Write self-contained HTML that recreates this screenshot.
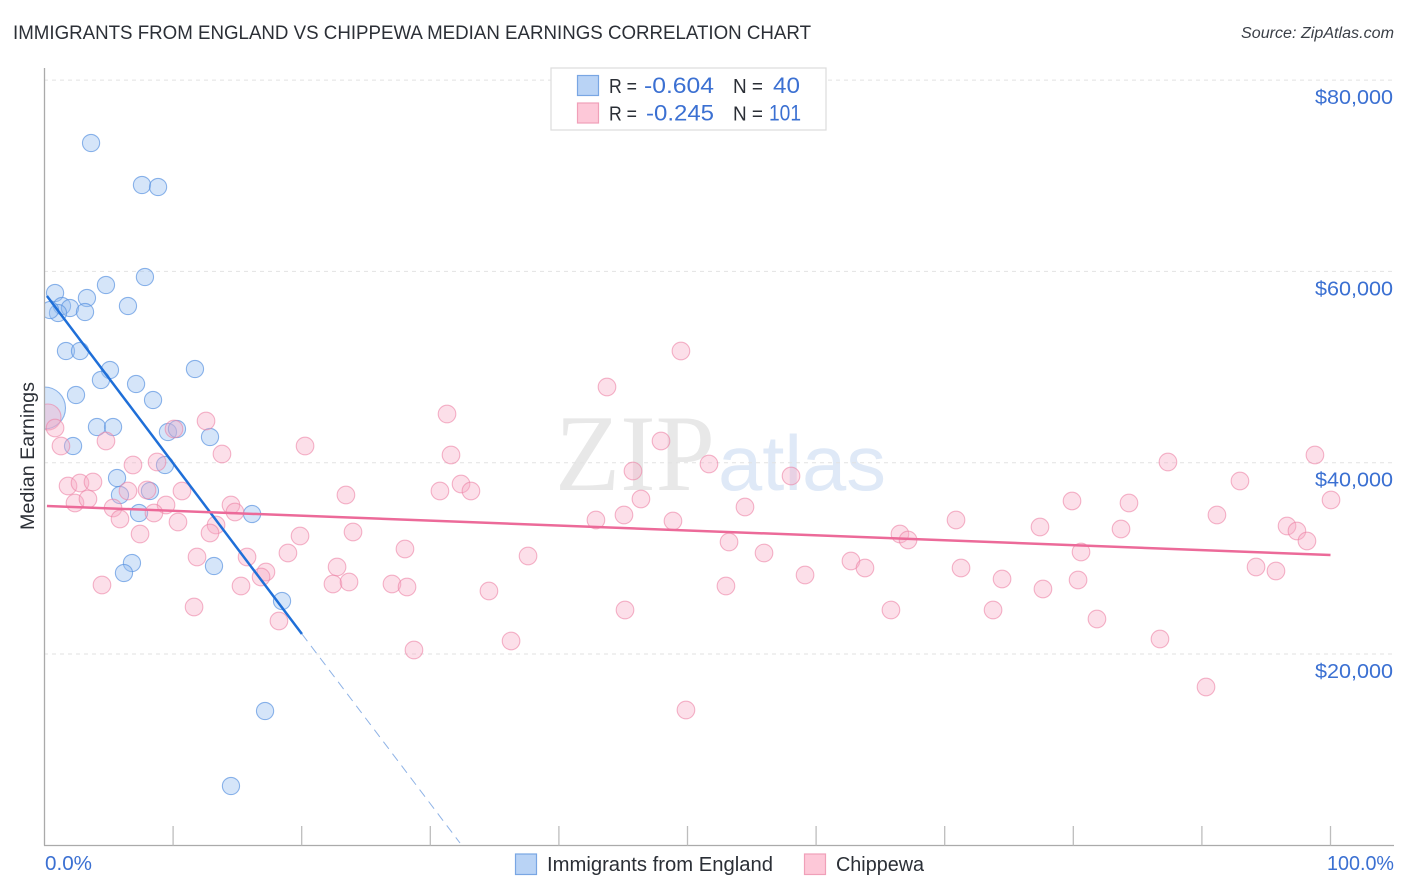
<!DOCTYPE html>
<html lang="en">
<head>
<meta charset="utf-8">
<title>Immigrants from England vs Chippewa Median Earnings Correlation Chart</title>
<style>
html,body{margin:0;padding:0;background:#fff;width:1406px;height:892px;overflow:hidden}
svg{display:block;font-family:"Liberation Sans",sans-serif}
</style>
</head>
<body>
<svg id="chart" xmlns="http://www.w3.org/2000/svg" width="1406" height="892" viewBox="0 0 1406 892">
  <defs><clipPath id="plot-clip"><rect x="44" y="60" width="1350" height="785"/></clipPath></defs>
  <rect x="0" y="0" width="1406" height="892" fill="#fff"/>
  <text x="13" y="39" font-size="19" fill="#2b2f36" textLength="798" lengthAdjust="spacingAndGlyphs">IMMIGRANTS FROM ENGLAND VS CHIPPEWA MEDIAN EARNINGS CORRELATION CHART</text>
  <text x="1394" y="38" font-size="15.5" font-style="italic" fill="#3a3f47" text-anchor="end" textLength="153" lengthAdjust="spacingAndGlyphs">Source: ZipAtlas.com</text>

  <g>
    <text x="555" y="490" font-family="'Liberation Serif',serif" font-size="109" fill="#e8e8e8" textLength="160" lengthAdjust="spacingAndGlyphs">ZIP</text>
    <text x="718" y="490" font-size="78" fill="#dfe9f7" textLength="168" lengthAdjust="spacingAndGlyphs">atlas</text>
  </g>

  <g id="grid"></g>
  <g id="blue-points" clip-path="url(#plot-clip)"></g>
  <g id="pink-points" clip-path="url(#plot-clip)"></g>
  <g id="trends"></g>
  <g id="axes"></g>

  <text transform="translate(34,456) rotate(-90)" font-size="19.5" fill="#2b2f36" text-anchor="middle" textLength="148" lengthAdjust="spacingAndGlyphs">Median Earnings</text>

  <g>
    <rect x="551" y="68" width="275" height="62" fill="#fff" stroke="#dcdcdc" stroke-width="1.2"/>
    <rect x="577.5" y="75.5" width="21" height="20" fill="#b9d3f5" stroke="#79a6e3" stroke-width="1.2"/>
    <rect x="577.5" y="103" width="21" height="20" fill="#fdc8d8" stroke="#f0a0b9" stroke-width="1.2"/>
    <text x="609" y="93" font-size="20" fill="#2b2f36" textLength="28" lengthAdjust="spacingAndGlyphs">R =</text>
    <text x="644" y="93" font-size="22" fill="#3b70d2" textLength="70" lengthAdjust="spacingAndGlyphs">-0.604</text>
    <text x="733" y="93" font-size="20" fill="#2b2f36" textLength="30" lengthAdjust="spacingAndGlyphs">N =</text>
    <text x="773" y="93" font-size="22" fill="#3b70d2" textLength="27" lengthAdjust="spacingAndGlyphs">40</text>
    <text x="609" y="120.500" font-size="20" fill="#2b2f36" textLength="28" lengthAdjust="spacingAndGlyphs">R =</text>
    <text x="646" y="120.500" font-size="22" fill="#3b70d2" textLength="68" lengthAdjust="spacingAndGlyphs">-0.245</text>
    <text x="733" y="120.500" font-size="20" fill="#2b2f36" textLength="30" lengthAdjust="spacingAndGlyphs">N =</text>
    <text x="769" y="120.500" font-size="22" fill="#3b70d2" textLength="32" lengthAdjust="spacingAndGlyphs">101</text>
  </g>

  <g>
    <rect x="515.500" y="854" width="21" height="20.500" fill="#b9d3f5" stroke="#79a6e3" stroke-width="1.2"/>
    <text x="547" y="871" font-size="20" fill="#2b2f36" textLength="226" lengthAdjust="spacingAndGlyphs">Immigrants from England</text>
    <rect x="804.500" y="854" width="21" height="20.500" fill="#fdc8d8" stroke="#f0a0b9" stroke-width="1.2"/>
    <text x="836" y="871" font-size="20" fill="#2b2f36" textLength="88" lengthAdjust="spacingAndGlyphs">Chippewa</text>
  </g>
</svg>
<script>
const yTickValues = [20000, 40000, 60000, 80000];
const yTickLabels = ["$20,000", "$40,000", "$60,000", "$80,000"];
const xTickValues = [0, 10, 20, 30, 40, 50, 60, 70, 80, 90, 100];
const xEndLabels = ["0.0%", "100.0%"];

const blueX = [3.62,7.58,8.83,7.81,4.78,6.49,3.30,0.82,1.36,1.98,3.15,1.05,0.43,1.67,2.76,5.09,4.39,7.12,11.70,2.45,8.44,0,4.08,5.33,9.60,10.30,12.87,2.22,9.37,5.64,5.87,8.20,7.35,16.14,6.80,6.18,13.18,18.47,17.15,14.50];
const blueY = [73425,69034,68825,59416,58579,56384,57220,57743,56384,56175,55757,55652,55966,51679,51679,49693,48647,48229,49797,47079,46556,45720,43733,43733,43211,43524,42688,41747,39760,38401,36624,37042,34742,34637,29514,28469,29201,25542,14041,6200];

const pinkX = [0.27,0.82,1.28,4.78,6.88,8.75,10.07,12.56,13.80,20.26,1.83,2.76,3.77,2.37,3.38,6.49,7.97,10.69,9.45,5.33,8.51,5.87,10.38,7.43,14.50,14.81,13.34,12.87,23.44,23.99,19.87,18.93,15.75,11.86,22.75,17.22,16.84,15.28,22.43,23.68,4.47,11.63,18.23,31.30,31.61,30.75,32.39,33.16,28.03,27.02,28.19,34.56,28.73,36.28,37.60,43.74,45.76,46.38,42.88,45.06,48.87,47.94,49.49,51.67,54.47,53.23,55.95,52.99,45.14,49.88,58.05,59.14,62.71,63.80,66.52,67.15,65.82,70.88,71.27,74.46,73.76,77.41,77.64,79.90,80.60,80.37,81.84,83.71,84.33,86.74,87.36,90.32,91.17,92.96,94.21,95.76,96.62,97.39,98.17,98.79,100.04];
const pinkY = [44779,43629,41747,42270,39760,40074,43524,44361,40910,41747,37565,37878,37983,35787,36206,37042,37147,37042,35578,35265,34742,34115,33801,32546,35578,34847,33487,32651,36624,32755,32337,30560,30142,30142,29096,28573,28051,27110,27319,27528,27214,24914,23451,45092,40806,37042,37774,37042,30978,27319,27005,26587,20419,21360,30246,47915,39133,36206,34010,34533,33906,42270,51679,39865,35369,31710,30560,27110,24601,14146,38610,28260,29724,28992,32546,31919,24601,34010,28992,27842,24601,33278,26796,35997,30665,27737,23660,33069,35787,21569,40074,16550,34533,38088,29096,28679,33383,32860,31815,40806,36102];

const blueTrendX = [0.19, 20.02, 32.31];
const blueTrendY = [57429, 22091, 240];
const pinkTrendX = [0.19, 100];
const pinkTrendY = [35474, 30351];

const NS = 'http://www.w3.org/2000/svg';
function xScale(v) { return 44.5 + v * 12.86; }
function yScale(v) { return 845.3 - v / 104.55; }
function make(tag, attrs, parent) {
  const el = document.createElementNS(NS, tag);
  for (const k in attrs) el.setAttribute(k, attrs[k]);
  parent.appendChild(el);
  return el;
}

const grid = document.getElementById('grid');
const axes = document.getElementById('axes');
const bluePoints = document.getElementById('blue-points');
const pinkPoints = document.getElementById('pink-points');
const trends = document.getElementById('trends');

yTickValues.forEach(function (v, i) {
  const line = make('line', {x1: 44, x2: 1394, y1: yScale(v), y2: yScale(v), stroke: '#e2e2e2', 'stroke-width': 1, 'stroke-dasharray': '4 4'}, grid);
  
  
  const label = make('text', {x: 1315, y: yScale(v) + 24, 'font-size': 20.5, fill: '#3b70d2', textLength: 78, lengthAdjust: 'spacingAndGlyphs'}, axes);
  label.textContent = yTickLabels[i];
  
  
});

const yAxis = make('line', {x1: 44.5, x2: 44.5, y1: 68, y2: 845.500, stroke: '#aaaaaa', 'stroke-width': 1.3}, axes);


const xAxis = make('line', {x1: 44, x2: 1394, y1: 845.500, y2: 845.500, stroke: '#aaaaaa', 'stroke-width': 1.3}, axes);



xTickValues.slice(1).forEach(function (v) {
  const tick = make('line', {x1: xScale(v), x2: xScale(v), y1: 826, y2: 845.500, stroke: '#bdbdbd', 'stroke-width': 1.3}, axes);
  
  
});

const xLabelStart = make('text', {x: 45, y: 870, 'font-size': 20, fill: '#3b70d2', textLength: 47, lengthAdjust: 'spacingAndGlyphs'}, axes);
xLabelStart.textContent = xEndLabels[0];


const xLabelEnd = make('text', {x: 1327, y: 870, 'font-size': 20, fill: '#3b70d2', textLength: 67, lengthAdjust: 'spacingAndGlyphs'}, axes);
xLabelEnd.textContent = xEndLabels[1];



blueX.forEach(function (v, i) {
  const c = make('circle', {cx: xScale(v), cy: yScale(blueY[i]), r: i === 21 ? 21 : 8.6, fill: 'rgba(150,190,240,0.4)', stroke: 'rgba(88,146,224,0.68)', 'stroke-width': 1.1}, bluePoints);
  
  
});
pinkX.forEach(function (v, i) {
  const c = make('circle', {cx: xScale(v), cy: yScale(pinkY[i]), r: i === 0 ? 13 : 8.8, fill: 'rgba(248,170,196,0.38)', stroke: 'rgba(236,130,165,0.6)', 'stroke-width': 1.1}, pinkPoints);
  
  
});

const blueSolid = make('line', {x1: xScale(blueTrendX[0]), y1: yScale(blueTrendY[0]), x2: xScale(blueTrendX[1]), y2: yScale(blueTrendY[1]), stroke: '#1f6fd8', 'stroke-width': 2.5}, trends);


const blueDash = make('line', {x1: xScale(blueTrendX[1]), y1: yScale(blueTrendY[1]), x2: xScale(blueTrendX[2]), y2: yScale(blueTrendY[2]), stroke: '#8fb3e6', 'stroke-width': 1, 'stroke-dasharray': '9 6'}, trends);


const pinkSolid = make('line', {x1: xScale(pinkTrendX[0]), y1: yScale(pinkTrendY[0]), x2: xScale(pinkTrendX[1]), y2: yScale(pinkTrendY[1]), stroke: '#ec6a99', 'stroke-width': 2.5}, trends);


</script>
</body>
</html>
